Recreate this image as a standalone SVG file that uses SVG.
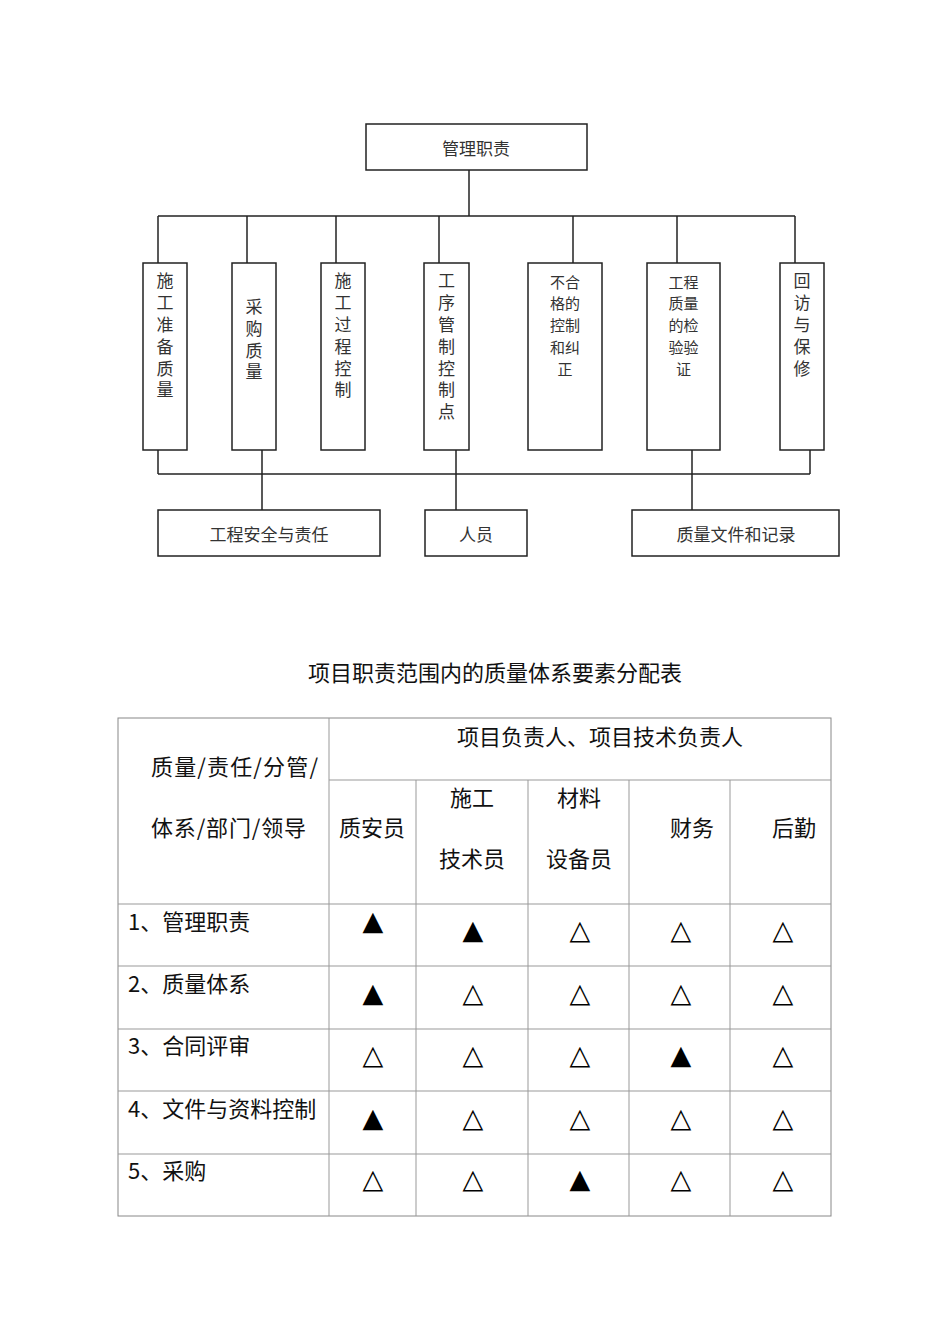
<svg xmlns="http://www.w3.org/2000/svg" width="950" height="1344" viewBox="0 0 950 1344">
<style>
.box{fill:#fff;stroke:#222;stroke-width:1.5}
.conn line{stroke:#222;stroke-width:1.5}
.ct{font-family:"Noto Sans CJK SC","Noto Sans CJK JP",sans-serif;font-size:17px;fill:#333;text-anchor:middle;dominant-baseline:central}
.vt{font-family:"Noto Sans CJK SC","Noto Sans CJK JP",sans-serif;font-size:17px;fill:#333;writing-mode:vertical-rl;text-orientation:upright;letter-spacing:4.8px}
.ct2{font-family:"Noto Sans CJK SC","Noto Sans CJK JP",sans-serif;font-size:15px;fill:#333;text-anchor:middle;dominant-baseline:central}
.tl{stroke:#999;stroke-width:1}
.tt{font-family:"Noto Sans CJK SC","Noto Sans CJK JP",sans-serif;font-size:22px;fill:#111;dominant-baseline:central}
.m{text-anchor:middle}
.tri{font-family:"DejaVu Sans",sans-serif;font-size:27px;fill:#000;text-anchor:middle;dominant-baseline:central}
</style>
<rect width="950" height="1344" fill="#fff"/>
<g id="connectors" class="conn">
<line x1="469" y1="170" x2="469" y2="216"/>
<line x1="158" y1="216" x2="795" y2="216"/>
<line x1="158" y1="216" x2="158" y2="263"/>
<line x1="247" y1="216" x2="247" y2="263"/>
<line x1="336" y1="216" x2="336" y2="263"/>
<line x1="439" y1="216" x2="439" y2="263"/>
<line x1="573" y1="216" x2="573" y2="263"/>
<line x1="677" y1="216" x2="677" y2="263"/>
<line x1="795" y1="216" x2="795" y2="263"/>
<line x1="158" y1="450" x2="158" y2="474"/>
<line x1="262" y1="450" x2="262" y2="510"/>
<line x1="456" y1="450" x2="456" y2="510"/>
<line x1="692" y1="450" x2="692" y2="510"/>
<line x1="810" y1="450" x2="810" y2="474"/>
<line x1="158" y1="474" x2="810" y2="474"/>
</g>
<g id="n-top"><rect class="box" x="366" y="124" width="221" height="46"/><text class="ct" x="476" y="147">管理职责</text></g>
<g id="n1"><rect class="box" x="143" y="263" width="44" height="187"/>
<text class="vt" x="165" y="272.5">施工准备质量</text></g>
<g id="n2"><rect class="box" x="232" y="263" width="44" height="187"/>
<text class="vt" x="254" y="298.1">采购质量</text></g>
<g id="n3"><rect class="box" x="321" y="263" width="44" height="187"/>
<text class="vt" x="343" y="272.5">施工过程控制</text></g>
<g id="n4"><rect class="box" x="424" y="263" width="45" height="187"/>
<text class="vt" x="446.5" y="272.5">工序管制控制点</text></g>
<g id="n5"><rect class="box" x="528" y="263" width="74" height="187"/>
<text class="ct2" x="565" y="281">不合</text><text class="ct2" x="565" y="302.8">格的</text><text class="ct2" x="565" y="324.6">控制</text><text class="ct2" x="565" y="346.4">和纠</text><text class="ct2" x="565" y="368.2">正</text></g>
<g id="n6"><rect class="box" x="647" y="263" width="73" height="187"/>
<text class="ct2" x="683.5" y="281">工程</text><text class="ct2" x="683.5" y="302.8">质量</text><text class="ct2" x="683.5" y="324.6">的检</text><text class="ct2" x="683.5" y="346.4">验验</text><text class="ct2" x="683.5" y="368.2">证</text></g>
<g id="n7"><rect class="box" x="780" y="263" width="44" height="187"/>
<text class="vt" x="802" y="272.5">回访与保修</text></g>
<g id="b1"><rect class="box" x="158" y="510" width="222" height="46"/><text class="ct" x="269" y="533">工程安全与责任</text></g>
<g id="b2"><rect class="box" x="425" y="510" width="102" height="46"/><text class="ct" x="476" y="533">人员</text></g>
<g id="b3"><rect class="box" x="632" y="510" width="207" height="46"/><text class="ct" x="736" y="533">质量文件和记录</text></g>
<text class="tt m" x="495" y="671" font-size="22.5">项目职责范围内的质量体系要素分配表</text>
<g id="table">
<rect x="118" y="718" width="713" height="498" fill="none" stroke="#888" stroke-width="1"/>
<line class="tl" x1="329" y1="718" x2="329" y2="1216"/>
<line class="tl" x1="329" y1="780" x2="831" y2="780"/>
<line class="tl" x1="416" y1="780" x2="416" y2="1216"/>
<line class="tl" x1="528" y1="780" x2="528" y2="1216"/>
<line class="tl" x1="629" y1="780" x2="629" y2="1216"/>
<line class="tl" x1="730" y1="780" x2="730" y2="1216"/>
<line class="tl" x1="118" y1="904" x2="831" y2="904"/>
<line class="tl" x1="118" y1="966" x2="831" y2="966"/>
<line class="tl" x1="118" y1="1029" x2="831" y2="1029"/>
<line class="tl" x1="118" y1="1091" x2="831" y2="1091"/>
<line class="tl" x1="118" y1="1154" x2="831" y2="1154"/>
<text class="tt m" x="600" y="735">项目负责人、项目技术负责人</text>
<text class="tt" x="151" y="765" textLength="167" lengthAdjust="spacing">质量/责任/分管/</text>
<text class="tt" x="151" y="826" textLength="155" lengthAdjust="spacing">体系/部门/领导</text>
<text class="tt m" x="372" y="826">质安员</text>
<text class="tt m" x="472" y="796">施工</text>
<text class="tt m" x="472" y="857">技术员</text>
<text class="tt m" x="579" y="796">材料</text>
<text class="tt m" x="579" y="857">设备员</text>
<text class="tt m" x="692" y="826">财务</text>
<text class="tt m" x="794" y="826">后勤</text>
<text class="tt" x="128" y="920">1、管理职责</text>
<text class="tt" x="128" y="982">2、质量体系</text>
<text class="tt" x="128" y="1044">3、合同评审</text>
<text class="tt" x="128" y="1107">4、文件与资料控制</text>
<text class="tt" x="128" y="1169">5、采购</text>
<text class="tri" x="373" y="920">▲</text><text class="tri" x="473" y="929">▲</text><text class="tri" x="580" y="929">△</text><text class="tri" x="681" y="929">△</text><text class="tri" x="783" y="929">△</text>
<text class="tri" x="373" y="992">▲</text><text class="tri" x="473" y="992">△</text><text class="tri" x="580" y="992">△</text><text class="tri" x="681" y="992">△</text><text class="tri" x="783" y="992">△</text>
<text class="tri" x="373" y="1054">△</text><text class="tri" x="473" y="1054">△</text><text class="tri" x="580" y="1054">△</text><text class="tri" x="681" y="1054">▲</text><text class="tri" x="783" y="1054">△</text>
<text class="tri" x="373" y="1117">▲</text><text class="tri" x="473" y="1117">△</text><text class="tri" x="580" y="1117">△</text><text class="tri" x="681" y="1117">△</text><text class="tri" x="783" y="1117">△</text>
<text class="tri" x="373" y="1178">△</text><text class="tri" x="473" y="1178">△</text><text class="tri" x="580" y="1178">▲</text><text class="tri" x="681" y="1178">△</text><text class="tri" x="783" y="1178">△</text>
</g>
</svg>
